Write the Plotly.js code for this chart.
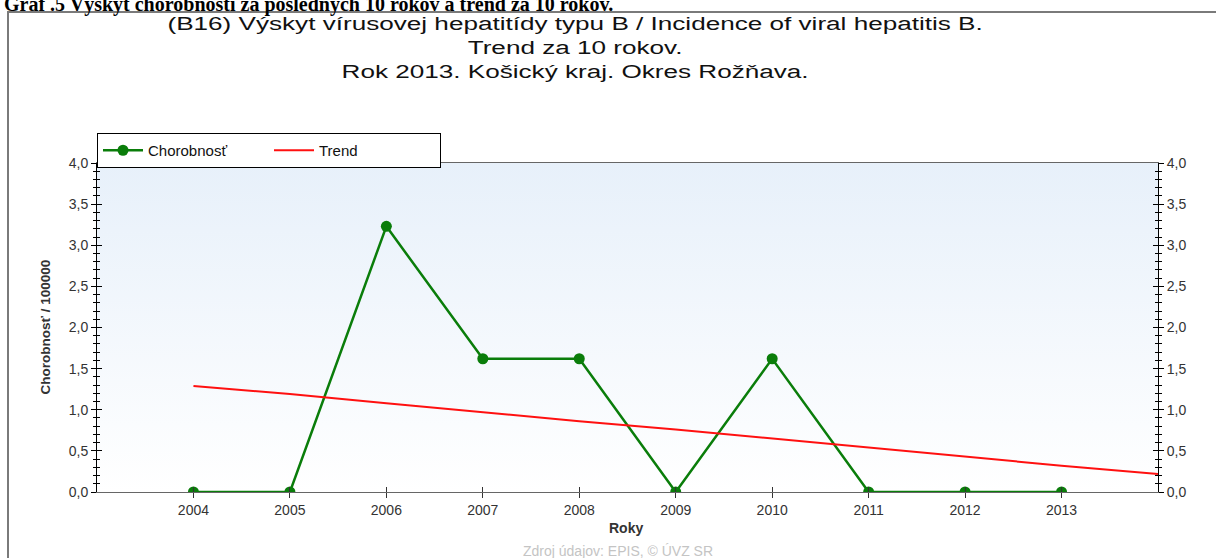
<!DOCTYPE html>
<html>
<head>
<meta charset="utf-8">
<script src="https://cdn.plot.ly/plotly-3.0.1.min.js"></script>
<style>html,body{margin:0;padding:0;background:#fff;}#chart{width:1216px;height:558px;}</style>
</head>
<body>
<div id="chart"></div>
<script>
// ---- data ----
const years = [2004, 2005, 2006, 2007, 2008, 2009, 2010, 2011, 2012, 2013];
const incidence = [0, 0, 3.23, 1.62, 1.62, 0, 1.62, 0, 0, 0];
const trendYears = [2004, 2005, 2006, 2007, 2008, 2009, 2010, 2011, 2012, 2013, 2014];
const trendValues = [1.29, 1.19, 1.08, 0.97, 0.86, 0.76, 0.65, 0.54, 0.43, 0.32, 0.22];
const yTickVals = [0, 0.5, 1, 1.5, 2, 2.5, 3, 3.5, 4];
const seriesNames = ['Chorobnosť', 'Trend'];
const titleLines = ['(B16) Výskyt vírusovej hepatitídy typu B / Incidence of viral hepatitis B.',
                    'Trend za 10 rokov.',
                    'Rok 2013. Košický kraj. Okres Rožňava.'];
const headingText = 'Graf .5 Výskyt chorobnosti za posledných 10 rokov a trend za 10 rokov.';
const yTitle = 'Chorobnosť / 100000';
const xTitle = 'Roky';
const sourceText = 'Zdroj údajov: EPIS, © ÚVZ SR';

// ---- geometry helpers (pixel -> paper) ----
const W = 1216, H = 558, L = 97, R = 58, T = 163, B = 66;
const pw = W - L - R, ph = H - T - B;
const px = x => (x - L) / pw;
const py = y => (H - B - y) / ph;

const FONT = 'Liberation Sans, Arial, sans-serif';
const green = '#0a7d0a';

const traces = [
  {x: years, y: incidence, name: seriesNames[0], type: 'scatter', mode: 'lines+markers',
   line: {color: green, width: 2.5}, marker: {color: green, size: 11}, xaxis: 'x', yaxis: 'y'},
  {x: trendYears, y: trendValues, name: seriesNames[1], type: 'scatter', mode: 'lines',
   line: {color: '#ff1010', width: 2}, xaxis: 'x', yaxis: 'y'}
];

const gradSvg = '<svg xmlns="http://www.w3.org/2000/svg" width="100" height="100" preserveAspectRatio="none">' +
  '<defs><linearGradient id="g" x1="0" y1="0" x2="0" y2="1">' +
  '<stop offset="0" stop-color="#e7f0fa"/><stop offset="1" stop-color="#ffffff"/></linearGradient></defs>' +
  '<rect width="100" height="100" fill="url(#g)"/></svg>';
const gradUri = 'data:image/svg+xml;charset=utf-8,' + encodeURIComponent(gradSvg);

const tickFont = {family: FONT, size: 14, color: '#333'};
const yBase = {
  range: [0, 4], tickvals: yTickVals, tickformat: '.1f', showgrid: false, zeroline: false,
  tickfont: tickFont, fixedrange: true
};

const titleY = [24, 48, 72];
const titleAnns = titleLines.map((t, i) => ({
  text: t, xref: 'paper', yref: 'paper', x: px(575), y: py(titleY[i]), xanchor: 'center', yanchor: 'middle',
  showarrow: false, font: {family: FONT, size: 18, color: '#111'}
}));

const layout = {
  width: W, height: H,
  margin: {l: L, r: R, t: T, b: B, pad: 0},
  paper_bgcolor: '#ffffff', plot_bgcolor: 'rgba(0,0,0,0)',
  separators: ', ',
  font: {family: FONT, color: '#222'},
  showlegend: true,
  legend: {orientation: 'h', x: 0, xanchor: 'left', y: py(133), yanchor: 'top',
           bordercolor: '#000', borderwidth: 1, bgcolor: '#fff',
           font: {family: FONT, size: 15, color: '#111'}, entrywidth: 116, itemwidth: 40, tracegroupgap: 0},
  xaxis: {range: [2003, 2014], tickvals: years, ticks: 'outside', ticklen: 5, tickcolor: '#333',
          showline: true, linecolor: '#666', linewidth: 1, mirror: true, showgrid: false, zeroline: false,
          tickfont: tickFont, fixedrange: true},
  xaxis2: {range: [2003, 2014], tickvals: years, ticks: 'inside', ticklen: 5, tickcolor: '#333',
           overlaying: 'x', showticklabels: false, showline: false, showgrid: false, zeroline: false, fixedrange: true},
  yaxis: Object.assign({}, yBase, {side: 'left', ticks: 'outside', ticklen: 5, tickcolor: '#000',
          showline: true, linecolor: '#000', linewidth: 1,
          minor: {dtick: 0.1, ticks: 'outside', ticklen: 3, tickcolor: '#000', showgrid: false}}),
  yaxis3: Object.assign({}, yBase, {side: 'left', overlaying: 'y', ticks: 'inside', ticklen: 5, tickcolor: '#000',
          showticklabels: false, showline: false,
          minor: {dtick: 0.1, ticks: 'inside', ticklen: 3, tickcolor: '#000', showgrid: false}}),
  yaxis2: Object.assign({}, yBase, {side: 'right', overlaying: 'y', ticks: 'outside', ticklen: 5, tickcolor: '#000',
          showline: true, linecolor: '#000', linewidth: 1,
          minor: {dtick: 0.1, ticks: 'outside', ticklen: 3, tickcolor: '#000', showgrid: false}}),
  yaxis4: Object.assign({}, yBase, {side: 'right', overlaying: 'y', ticks: 'inside', ticklen: 5, tickcolor: '#000',
          showticklabels: false, showline: false,
          minor: {dtick: 0.1, ticks: 'inside', ticklen: 3, tickcolor: '#000', showgrid: false}}),
  images: [{source: gradUri, xref: 'paper', yref: 'paper', x: 0, y: 1, sizex: 1, sizey: 1,
            sizing: 'stretch', xanchor: 'left', yanchor: 'top', layer: 'below'}],
  shapes: [
    {type: 'rect', xref: 'paper', yref: 'paper', x0: px(8), x1: px(1240), y0: py(600), y1: py(12),
     line: {color: '#7a7a7a', width: 2}, fillcolor: 'rgba(0,0,0,0)', layer: 'below'}
  ],
  annotations: titleAnns.concat([
    {text: '<b>' + headingText + '</b>', xref: 'paper', yref: 'paper', x: px(2), xanchor: 'left', y: py(4), yanchor: 'middle',
     showarrow: false, font: {family: 'Liberation Serif, Times New Roman, serif', size: 20, color: '#000'}},
    {text: '<b>' + yTitle + '</b>', xref: 'paper', yref: 'paper', x: px(45), y: 0.5, xanchor: 'center', yanchor: 'middle',
     textangle: -90, showarrow: false, font: {family: FONT, size: 13.5, color: '#333'}},
    {text: '<b>' + xTitle + '</b>', xref: 'paper', yref: 'paper', x: px(626), y: py(528), xanchor: 'center', yanchor: 'middle',
     showarrow: false, font: {family: FONT, size: 14, color: '#333'}},
    {text: sourceText, xref: 'paper', yref: 'paper', x: px(618), y: py(551), xanchor: 'center', yanchor: 'middle',
     showarrow: false, font: {family: FONT, size: 14, color: '#c4c4c4'}}
  ])
};

// invisible helper traces so the overlay tick axes are drawn
const helperTraces = [
  {x: [2003], y: [0], xaxis: 'x2', yaxis: 'y3', mode: 'markers', marker: {opacity: 0}, showlegend: false, hoverinfo: 'skip'},
  {x: [2003], y: [0], xaxis: 'x', yaxis: 'y2', mode: 'markers', marker: {opacity: 0}, showlegend: false, hoverinfo: 'skip'},
  {x: [2003], y: [0], xaxis: 'x', yaxis: 'y4', mode: 'markers', marker: {opacity: 0}, showlegend: false, hoverinfo: 'skip'}
];

Plotly.newPlot('chart', helperTraces.concat(traces), layout, {displayModeBar: false, staticPlot: true}).then(gd => {
  // the source document's chart title is horizontally stretched; widen the title lines accordingly
  gd.querySelectorAll('.annotation-text').forEach(t => {
    if (titleLines.indexOf(t.textContent) >= 0) {
      const w = t.getComputedTextLength();
      t.setAttribute('textLength', (w * 1.45).toFixed(1));
      t.setAttribute('lengthAdjust', 'spacingAndGlyphs');
    }
  });
});
</script>
</body>
</html>
